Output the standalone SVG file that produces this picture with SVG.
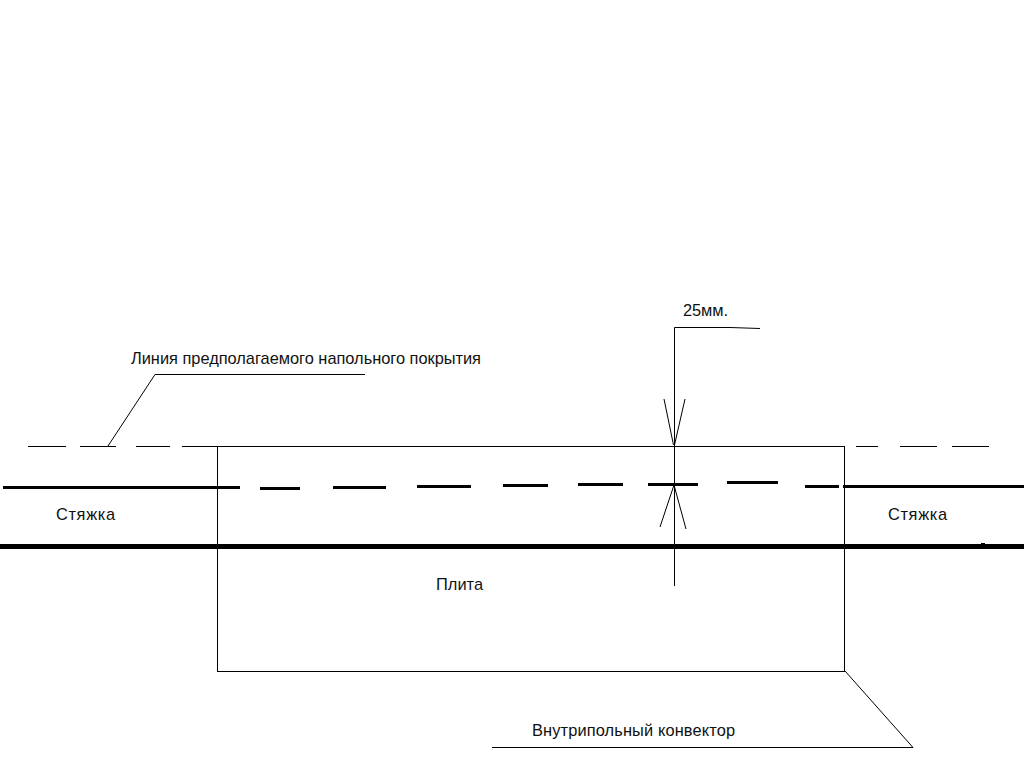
<svg xmlns="http://www.w3.org/2000/svg" width="1024" height="768" viewBox="0 0 1024 768">
<style>
.t{font-family:"Liberation Sans",Arial,sans-serif;font-size:16.4px;fill:#111}
.thin{stroke:#000;stroke-width:1;fill:none}
.mid{stroke:#000;stroke-width:3;fill:none}
.thick{stroke:#000;stroke-width:5;fill:none}
</style>
<rect width="1024" height="768" fill="#fff"/>
<g id="floor-line">
<path class="thin" d="M28 446.500H66M80 446.500H116M136 446.500H170M182 446.500H217M856 446.500H878M900 446.500H937M952 446.500H989"/>
</g>
<g id="screed-top">
<path class="mid" d="M3 487.500H240M260 488.500H300M333 487.500H386M417 486.500H471M503 485.500H548M578 484.500H623M648 484.500H698M727 482.500H778M805 486.500H839M843 486.500H1024"/>
</g>
<g id="slab-top">
<path class="thick" d="M0 546.500H1024"/>
<rect x="981" y="543" width="4" height="2" fill="#000"/>
</g>
<g id="convector">
<rect class="thin" x="217.500" y="446.500" width="627" height="225"/>
</g>
<g id="connectors">
<path class="thin" d="M108 446L155 374.500H365"/>
<path class="thin" d="M674.500 586V327.500H730L760 328.500"/>
<path class="thin" d="M664 399L673.500 445M685 399L674.500 445"/>
<path class="thin" d="M674 485L660 527M674 485L686 529"/>
<path class="thin" d="M845 671L913 747.500H492"/>
</g>
<g id="labels">
<text class="t" x="131" y="364" textLength="350">Линия предполагаемого напольного покрытия</text>
<text class="t" x="683" y="316" textLength="45">25мм.</text>
<text class="t" x="56" y="520" textLength="59">Стяжка</text>
<text class="t" x="888" y="520" textLength="59">Стяжка</text>
<text class="t" x="436" y="590" textLength="47">Плита</text>
<text class="t" x="532" y="736" textLength="203">Внутрипольный конвектор</text>
</g>
</svg>
